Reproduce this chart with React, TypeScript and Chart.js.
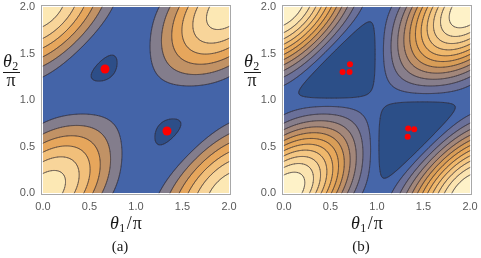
import React, { useEffect, useRef } from 'react';
import { Chart, registerables } from 'chart.js';

Chart.register(...registerables);

// ---- data -------------------------------------------------------------
// tick values (units of π)
const xTicks = [0, 0.5, 1.0, 1.5, 2.0];
const yTicks = [0, 0.5, 1.0, 1.5, 2.0];

// contour levels (low -> high) and band fill colours (one more than levels)
const levelsA = [-1.43, -0.42, 0.18, 0.78, 1.38, 1.98, 2.58];
const colorsA = ['#2d4e88', '#4464a8', '#837d8c', '#c19265', '#e6a65c', '#f1bf7a', '#f8d59a', '#fce8b4'];

const levelsB = [-1.06, -0.76, -0.42, -0.08, 0.26, 0.6, 0.94, 1.28, 1.62, 1.96, 2.3, 2.64];
const colorsB = ['#2c4f88', '#4666a9', '#6a7099', '#877e8b', '#a3877a', '#bf9066', '#d89d57', '#e7a85b', '#efb86c', '#f4c783', '#f8d69a', '#fbe4b0', '#fef2c8'];

// red markers (θ1/π, θ2/π)
const minA_t1 = [0.667, 1.333];
const minA_t2 = [1.333, 0.667];
const minB_t1 = [0.71, 0.63, 0.705, 1.335, 1.4, 1.33];
const minB_t2 = [1.385, 1.3, 1.3, 0.695, 0.685, 0.605];

const panelLabels = ['(a)', '(b)'];

// plotted field: E(θ1, θ2) = cos θ1 + cos θ2 + cos(θ1 − θ2), θ in units of π
const field = (t1: number, t2: number) =>
  Math.cos(Math.PI * t1) + Math.cos(Math.PI * t2) + Math.cos(Math.PI * (t1 - t2));

// ---- helpers ----------------------------------------------------------
function hexToRgb(h: string): number[] {
  const n = parseInt(h.slice(1), 16);
  return [(n >> 16) & 255, (n >> 8) & 255, n & 255];
}

function bandIndex(v: number, levels: number[]) {
  let k = 0;
  while (k < levels.length && v > levels[k]) k++;
  return k;
}

const SERIF = '"Liberation Serif", "DejaVu Serif", serif';

function makePlugin(levels: number[], colors: string[], label: string) {
  return {
    id: 'contourPanel',
    beforeDatasetsDraw(chart: any) {
      const ctx: CanvasRenderingContext2D = chart.ctx;
      const xs = chart.scales.x;
      const ys = chart.scales.y;
      const L = xs.getPixelForValue(0);
      const R = xs.getPixelForValue(2);
      const T = ys.getPixelForValue(2);
      const B = ys.getPixelForValue(0);
      const W = Math.round(R - L);
      const H = Math.round(B - T);
      const off = document.createElement('canvas');
      off.width = W;
      off.height = H;
      const octx = off.getContext('2d')!;
      const img = octx.createImageData(W, H);
      const rgb = colors.map(hexToRgb);
      const S = 3;
      for (let j = 0; j < H; j++) {
        for (let i = 0; i < W; i++) {
          let r = 0, g = 0, b = 0;
          for (let sj = 0; sj < S; sj++) {
            const py = T + (j + (sj + 0.5) / S) * (B - T) / H;
            const t2 = ys.getValueForPixel(py);
            for (let si = 0; si < S; si++) {
              const px = L + (i + (si + 0.5) / S) * (R - L) / W;
              const t1 = xs.getValueForPixel(px);
              const c = rgb[bandIndex(field(t1, t2), levels)];
              r += c[0]; g += c[1]; b += c[2];
            }
          }
          const k = (j * W + i) * 4;
          img.data[k] = r / (S * S);
          img.data[k + 1] = g / (S * S);
          img.data[k + 2] = b / (S * S);
          img.data[k + 3] = 255;
        }
      }
      octx.putImageData(img, 0, 0);
      ctx.save();
      ctx.imageSmoothingEnabled = true;
      ctx.drawImage(off, L, T, R - L, B - T);

      // contour lines (marching squares)
      const N = 300;
      const M = N + 1;
      const v = new Float64Array(M * M);
      for (let j = 0; j <= N; j++)
        for (let i = 0; i <= N; i++) v[j * M + i] = field((2 * i) / N, (2 * j) / N);
      ctx.beginPath();
      const pts: number[] = [];
      for (const lev of levels) {
        for (let j = 0; j < N; j++) {
          for (let i = 0; i < N; i++) {
            const a = v[j * M + i], b = v[j * M + i + 1], c = v[(j + 1) * M + i + 1], d = v[(j + 1) * M + i];
            const ia = a > lev, ib = b > lev, ic = c > lev, id = d > lev;
            if (ia === ib && ib === ic && ic === id) continue;
            pts.length = 0;
            const x0 = (2 * i) / N, x1 = (2 * (i + 1)) / N, y0 = (2 * j) / N, y1 = (2 * (j + 1)) / N;
            if (ia !== ib) { const t = (lev - a) / (b - a); pts.push(x0 + (x1 - x0) * t, y0); }
            if (ib !== ic) { const t = (lev - b) / (c - b); pts.push(x1, y0 + (y1 - y0) * t); }
            if (ic !== id) { const t = (lev - c) / (d - c); pts.push(x1 + (x0 - x1) * t, y1); }
            if (id !== ia) { const t = (lev - d) / (a - d); pts.push(x0, y1 + (y0 - y1) * t); }
            for (let p = 0; p + 3 < pts.length; p += 4) {
              ctx.moveTo(xs.getPixelForValue(pts[p]), ys.getPixelForValue(pts[p + 1]));
              ctx.lineTo(xs.getPixelForValue(pts[p + 2]), ys.getPixelForValue(pts[p + 3]));
            }
          }
        }
      }
      ctx.strokeStyle = 'rgba(45,40,50,0.5)';
      ctx.lineWidth = 0.7;
      ctx.lineCap = 'round';
      ctx.stroke();
      ctx.restore();
    },
    afterDraw(chart: any) {
      const ctx: CanvasRenderingContext2D = chart.ctx;
      const ca = chart.chartArea;
      ctx.save();
      // frame
      ctx.strokeStyle = '#a8a8a8';
      ctx.lineWidth = 1;
      ctx.strokeRect(Math.round(ca.left) + 0.5, Math.round(ca.top) + 0.5,
        Math.round(ca.right - ca.left) - 1, Math.round(ca.bottom - ca.top) - 1);

      ctx.fillStyle = '#1a1a1a';
      ctx.textBaseline = 'alphabetic';
      ctx.textAlign = 'left';
      // x title θ1/π
      let x = 110;
      const base = 229;
      ctx.font = `italic 18px ${SERIF}`;
      ctx.fillText('θ', x, base);
      x += ctx.measureText('θ').width + 0.5;
      ctx.font = `12px ${SERIF}`;
      ctx.fillText('1', x, base + 3);
      x += ctx.measureText('1').width + 1.5;
      ctx.font = `18px ${SERIF}`;
      ctx.fillText('/', x, base);
      x += ctx.measureText('/').width + 1;
      ctx.fillText('π', x, base);

      // y title fraction θ2 / π
      let yx = 3;
      const yb = 67;
      ctx.font = `italic 18px ${SERIF}`;
      ctx.fillText('θ', yx, yb);
      yx += ctx.measureText('θ').width + 0.5;
      ctx.font = `12px ${SERIF}`;
      ctx.fillText('2', yx, yb + 3);
      ctx.fillRect(3, 72, 17, 1);
      ctx.font = `18px ${SERIF}`;
      ctx.textAlign = 'center';
      ctx.fillText('π', 11, 86);

      // panel label
      ctx.font = `15px ${SERIF}`;
      ctx.fillText(label, 120, 251);
      ctx.restore();
    },
  };
}

function scaleOpts(ticks: number[], isX: boolean) {
  return {
    type: 'linear' as const,
    min: -0.02,
    max: 2.02,
    afterBuildTicks: (s: any) => {
      s.ticks = ticks.map((value) => ({ value }));
    },
    afterFit: (s: any) => {
      if (isX) {
        s.height = 20;
        s.paddingLeft = 0;
        s.paddingRight = 0;
      } else {
        s.width = 41.1;
        s.paddingTop = 0;
        s.paddingBottom = 0;
      }
    },
    ticks: {
      callback: (v: any) => Number(v).toFixed(1),
      font: { family: '"Liberation Sans", Arial, sans-serif', size: 11 },
      color: '#5a5a5a',
      padding: isX ? 5 : 6,
      maxRotation: 0,
      autoSkip: false,
    },
    grid: { display: false, drawTicks: false },
    border: { display: false },
  };
}

function Panel(props: { levels: number[]; colors: string[]; t1: number[]; t2: number[]; radius: number; label: string; left: number }) {
  const ref = useRef<HTMLCanvasElement>(null);
  useEffect(() => {
    const chart = new Chart(ref.current!, {
      type: 'scatter',
      data: {
        datasets: [
          {
            data: props.t1.map((x, i) => ({ x, y: props.t2[i] })),
            pointRadius: props.radius,
            pointBackgroundColor: '#ff0000',
            pointBorderWidth: 0,
            pointHoverRadius: props.radius,
          },
        ],
      },
      options: {
        animation: false,
        responsive: false,
        maintainAspectRatio: false,
        devicePixelRatio: 1,
        events: [],
        layout: { padding: { left: 0, right: 9.1, top: 5.1, bottom: 43.1 } },
        plugins: { legend: { display: false }, tooltip: { enabled: false } },
        scales: { x: scaleOpts(xTicks, true), y: scaleOpts(yTicks, false) },
      } as any,
      plugins: [makePlugin(props.levels, props.colors, props.label)],
    });
    return () => chart.destroy();
  }, []);
  return (
    <canvas
      ref={ref}
      width={240}
      height={258}
      style={{ position: 'absolute', left: props.left, top: 0, width: 240, height: 258 }}
    />
  );
}

export default function App() {
  return (
    <div style={{ position: 'fixed', left: 0, top: 0, width: 481, height: 258, background: '#fff' }}>
      <Panel levels={levelsA} colors={colorsA} t1={minA_t1} t2={minA_t2} radius={4.5} label={panelLabels[0]} left={0} />
      <Panel levels={levelsB} colors={colorsB} t1={minB_t1} t2={minB_t2} radius={3} label={panelLabels[1]} left={241} />
    </div>
  );
}
